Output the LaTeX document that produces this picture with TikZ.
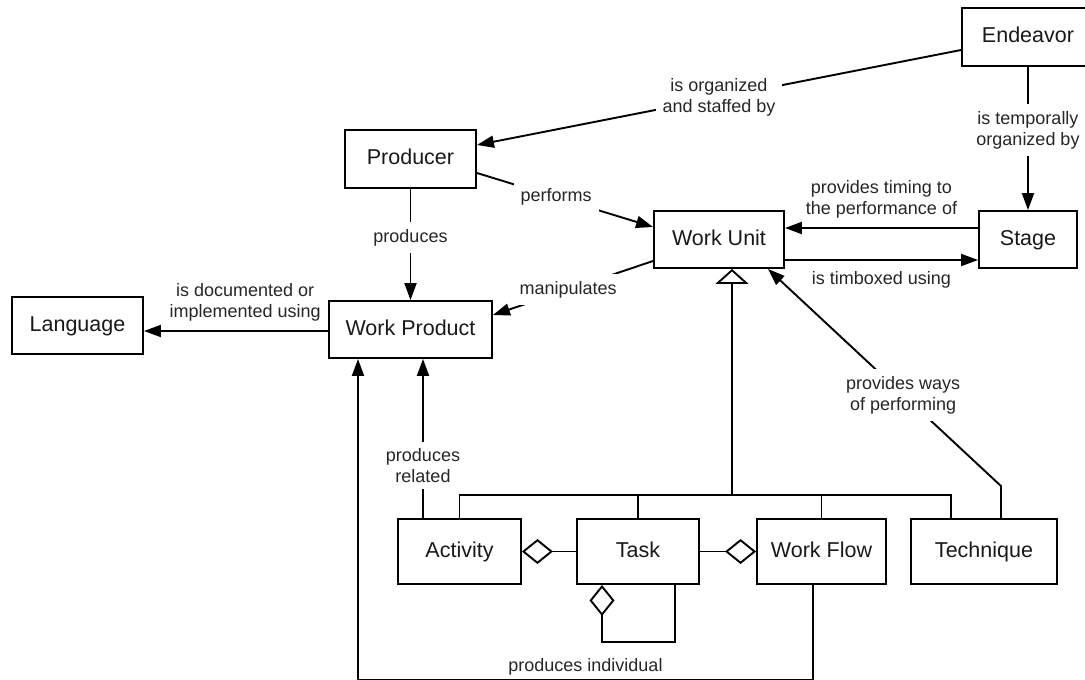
\documentclass[tikz,border=0pt]{standalone}
\usepackage{fontspec}
\setmainfont{Liberation Sans}
\usetikzlibrary{arrows.meta,calc}
\begin{document}
\begin{tikzpicture}[x=1pt,y=-1pt,
  box/.style={draw, line width=1.9pt, inner sep=0pt, text=black!90,
    font=\fontsize{21.5}{24}\selectfont, text height=15.5pt, text depth=4.5pt,
    minimum height=57pt},
  lab/.style={font=\fontsize{18}{21}\selectfont, align=center, inner sep=2pt, text=black!85},
  gap/.style={lab, fill=white, inner xsep=7pt, inner ysep=7pt},
  conn/.style={line width=1.9pt},
  arr/.style={conn, -{Triangle[length=17pt,width=12pt]}},
  inh/.style={conn, -{Triangle[open,length=15pt,width=33pt]}},
  agg/.style={conn, -{Diamond[open,length=31pt,width=25pt]}},
]
\useasboundingbox (0,0) rectangle (1085,680);

% nodes
\node[box, minimum width=132pt, minimum height=58pt] (end) at (1028,37) {Endeavor};
\node[box, minimum width=131pt, minimum height=58pt] (prod) at (410.5,159) {Producer};
\node[box, minimum width=130pt] (wu) at (719,239.5) {Work Unit};
\node[box, minimum width=98pt] (stage) at (1028,239.5) {Stage};
\node[box, minimum width=131pt] (lang) at (77.5,325.5) {Language};
\node[box, minimum width=163pt] (wp) at (410.5,329.5) {Work Product};
\node[box, minimum width=123pt, minimum height=65pt] (act) at (459.5,551.5) {Activity};
\node[box, minimum width=122pt, minimum height=65pt] (task) at (638,551.5) {Task};
\node[box, minimum width=129pt, minimum height=65pt] (wf) at (821.5,551.5) {Work Flow};
\node[box, minimum width=146pt, minimum height=65pt] (tech) at (984,551.5) {Technique};

% associations
\draw[arr] ($(end.west)+(0,13)$) -- node[gap, pos=0.5] {is organized\\and staffed by} ($(prod.east)+(0,-14)$);
\draw[arr] (end.south) -- node[gap, pos=0.44] {is temporally\\organized by} (stage.north);
\draw[arr] ($(prod.east)+(0,14)$) -- node[gap, pos=0.45] {performs} ($(wu.west)+(0,-12.5)$);
\draw[arr] (prod.south) -- node[gap, pos=0.44] {produces} (wp.north);
\draw[arr] ($(wu.west)+(0,21.5)$) -- node[gap, pos=0.53] {manipulates} ($(wp.east)+(0,-14.5)$);
\draw[arr] ($(wp.west)+(0,1.5)$) -- node[lab, pos=0.45, above=7pt] {is documented or\\implemented using} ($(lang.east)+(0,5.5)$);
\draw[arr] ($(stage.west)+(0,-11.5)$) -- node[lab, midway, above=7pt] {provides timing to\\the performance of} ($(wu.east)+(0,-11.5)$);
\draw[arr] ($(wu.east)+(0,20.5)$) -- node[lab, midway, below=9pt] {is timboxed using} ($(stage.west)+(0,20.5)$);
\draw[arr] ($(tech.north)+(17,0)$) -- ++(0,-32) -- node[gap, pos=0.42] {provides ways\\of performing} ($(wu.south east)+(-17,0)$);

% generalization tree
\coordinate (bus) at (732,495);
\draw[conn] (act.north) -- (act.north |- bus) -- ($(tech.north |- bus)+(-33,0)$) -- ($(tech.north)+(-33,0)$);
\draw[conn] (task.north) -- (task.north |- bus);
\draw[conn] (wf.north) -- (wf.north |- bus);
\draw[inh] (bus) -- (bus |- wu.south);

% aggregations
\draw[agg] (task.west) -- (act.east);
\draw[agg] (task.east) -- (wf.west);
\draw[agg] ($(task.south)+(37,0)$) -- ++(0,57) -| ($(task.south)+(-36,0)$);

% produces
\draw[arr] ($(act.north)+(-36.5,0)$) -- node[gap, pos=0.33, inner ysep=6pt] {produces\\related} ($(wp.south)+(12.5,0)$);
\draw[arr] ($(wf.south)+(-8.5,0)$) -- ++(0,94.5) -| node[lab, pos=0.25, above=1pt] {produces individual} ($(wp.south)+(-52.5,0)$);
\end{tikzpicture}
\end{document}
